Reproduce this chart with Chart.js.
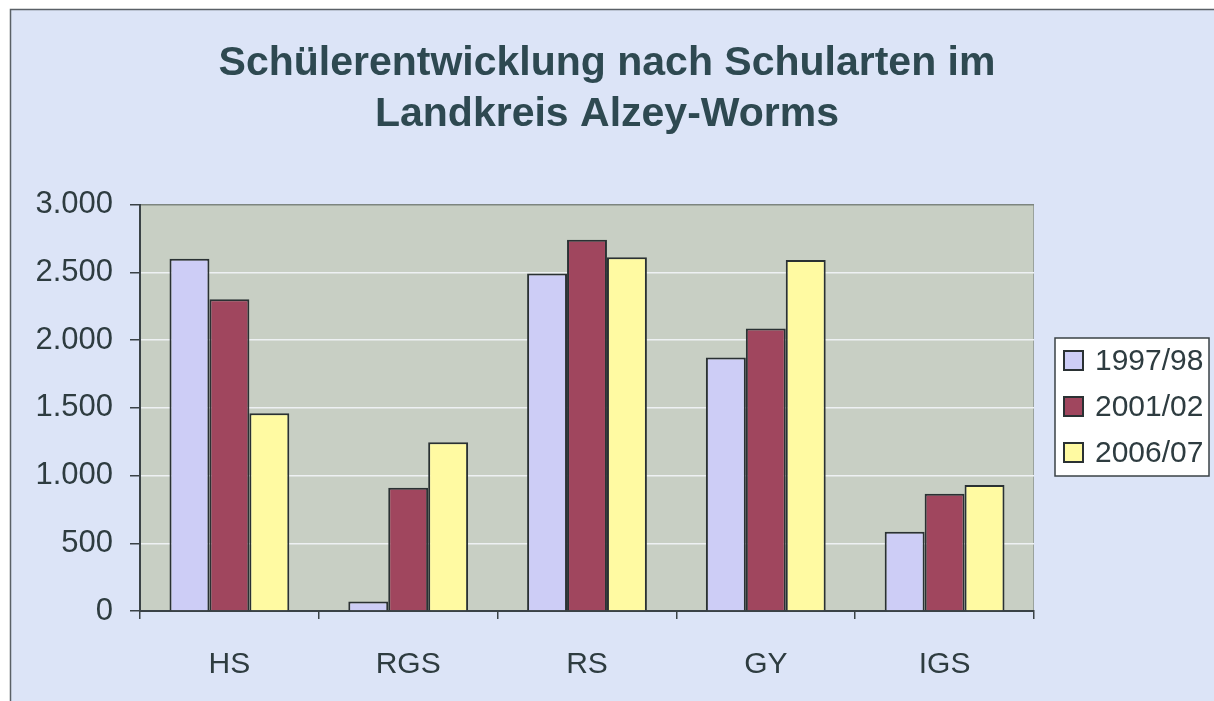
<!DOCTYPE html>
<html>
<head>
<meta charset="utf-8">
<script src="https://cdn.jsdelivr.net/npm/chart.js@4/dist/chart.umd.min.js"></script>
<style>
  html, body { margin: 0; padding: 0; background: #ffffff; }
  #wrap { width: 1214px; height: 701px; }
</style>
</head>
<body>
<div id="wrap"><canvas id="bars" width="1214" height="701"></canvas></div>
<script>
// Schülerzahlen je Schulart
const categories = ['HS', 'RGS', 'RS', 'GY', 'IGS'];
const seriesLabels = ['1997/98', '2001/02', '2006/07'];
const values9798 = [2600, 70, 2490, 1870, 585];
const values0102 = [2300, 910, 2740, 2085, 865];
const values0607 = [1460, 1245, 2610, 2590, 930];
const yMax = 3000;
const yStep = 500;

const colors = ['#cdcdf6', '#a0465e', '#fffaa2'];
const textColor = '#2e3c40';
const font = '"Liberation Sans", Arial, sans-serif';

function formatDE(v) {
    return String(v).replace(/\B(?=(\d{3})+(?!\d))/g, '.');
}

// page background + frame + grey plot area
const backdrop = {
    id: 'backdrop',
    beforeDraw(chart) {
        const ctx = chart.ctx;
        const a = chart.chartArea;
        ctx.save();
        ctx.fillStyle = '#ffffff';
        ctx.fillRect(0, 0, chart.width, chart.height);
        ctx.fillStyle = '#dce4f7';
        ctx.fillRect(10, 9, chart.width - 10, chart.height - 9);
        ctx.strokeStyle = '#5a6066';
        ctx.lineWidth = 1.5;
        ctx.beginPath();
        ctx.moveTo(10.5, chart.height);
        ctx.lineTo(10.5, 9.5);
        ctx.lineTo(chart.width, 9.5);
        ctx.stroke();
        ctx.fillStyle = '#c8cfc4';
        ctx.fillRect(a.left, a.top, a.right - a.left, a.bottom - a.top);
        ctx.strokeStyle = '#9aa29c';
        ctx.lineWidth = 1;
        ctx.beginPath();
        ctx.moveTo(a.right - 0.5, a.top);
        ctx.lineTo(a.right - 0.5, a.bottom);
        ctx.stroke();
        ctx.restore();
    }
};

// boxed legend to the right of the plot
const boxLegend = {
    id: 'boxLegend',
    afterDraw(chart) {
        const ctx = chart.ctx;
        const a = chart.chartArea;
        const sets = chart.data.datasets;
        const rowH = 46;
        const boxW = 154, boxH = 138;
        const x0 = a.right + 21;
        const y0 = Math.round((a.top + a.bottom) / 2 - boxH / 2) - 1;
        ctx.save();
        ctx.fillStyle = '#ffffff';
        ctx.fillRect(x0, y0, boxW, boxH);
        ctx.strokeStyle = '#3a4246';
        ctx.lineWidth = 1.5;
        ctx.strokeRect(x0, y0, boxW, boxH);
        ctx.font = '30px ' + font;
        ctx.textBaseline = 'middle';
        sets.forEach((ds, i) => {
            const cy = y0 + 23 + i * rowH;
            ctx.fillStyle = ds.backgroundColor;
            ctx.fillRect(x0 + 9, cy - 10, 19, 19);
            ctx.strokeStyle = '#2a3133';
            ctx.lineWidth = 2;
            ctx.strokeRect(x0 + 9, cy - 10, 19, 19);
            ctx.fillStyle = textColor;
            ctx.fillText(ds.label, x0 + 40, cy + 1);
        });
        ctx.restore();
    }
};

const ctx = document.getElementById('bars').getContext('2d');
new Chart(ctx, {
    type: 'bar',
    data: {
        labels: categories,
        datasets: [
            { label: seriesLabels[0], data: values9798, backgroundColor: colors[0] },
            { label: seriesLabels[1], data: values0102, backgroundColor: colors[1] },
            { label: seriesLabels[2], data: values0607, backgroundColor: colors[2] }
        ]
    },
    options: {
        responsive: false,
        animation: false,
        layout: { padding: 0 },
        datasets: {
            bar: {
                categoryPercentage: 0.67,
                barPercentage: 1.0,
                borderWidth: 2,
                borderColor: '#2a3133'
            }
        },
        plugins: {
            legend: { display: false },
            tooltip: { enabled: false },
            title: {
                display: true,
                text: ['Schülerentwicklung nach Schularten im', 'Landkreis Alzey-Worms'],
                color: '#2e4951',
                font: { family: font, size: 41, weight: 'bold', lineHeight: 1.25 },
                padding: { top: 38, bottom: 64 }
            }
        },
        scales: {
            x: {
                grid: {
                    drawOnChartArea: false,
                    drawTicks: true,
                    tickLength: 8,
                    color: '#3a4246',
                    lineWidth: 1.5
                },
                border: { color: '#3a4246', width: 2 },
                ticks: {
                    color: textColor,
                    padding: 28,
                    font: { family: font, size: 30 }
                },
                afterFit(scale) { scale.height = 90; }
            },
            y: {
                min: 0,
                max: yMax,
                grid: {
                    color: (c) => c.tick && c.tick.value === yMax ? '#7d857f' : '#eef1f3',
                    lineWidth: 1.5,
                    tickColor: '#3a4246',
                    tickLength: 10,
                    drawTicks: true
                },
                border: { color: '#3a4246', width: 2 },
                ticks: {
                    stepSize: yStep,
                    color: textColor,
                    padding: 17,
                    font: { family: font, size: 31 },
                    callback: (v) => formatDE(v)
                },
                afterFit(scale) { scale.width = 140; }
            },
            // empty space on the right for the boxed legend
            legendSpace: {
                type: 'linear',
                position: 'right',
                display: true,
                grid: { drawOnChartArea: false, drawTicks: false },
                border: { display: false },
                ticks: { display: false },
                afterFit(scale) { scale.width = 180; }
            }
        }
    },
    plugins: [backdrop, boxLegend]
});
</script>
</body>
</html>
